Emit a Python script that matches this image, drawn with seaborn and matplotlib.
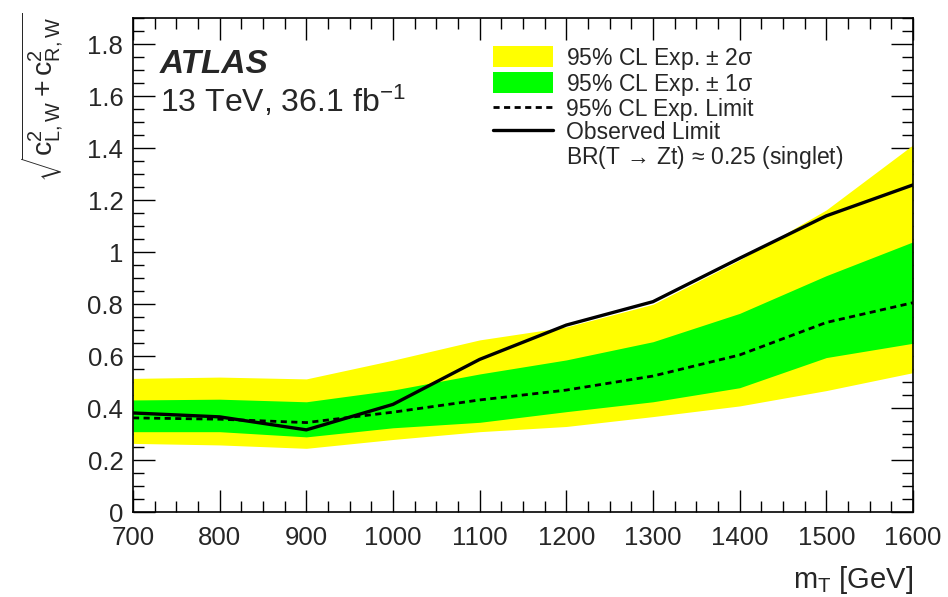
import matplotlib
matplotlib.use("Agg")
import matplotlib.pyplot as plt
from matplotlib.patches import Patch
from matplotlib.lines import Line2D
from matplotlib.ticker import MultipleLocator
import seaborn as sns
import pandas as pd

# Mass points and limits on sqrt(c_LW^2 + c_RW^2)
mass = [700, 800, 900, 1000, 1100, 1200, 1300, 1400, 1500, 1600]
observed = [0.382, 0.367, 0.317, 0.415, 0.588, 0.720, 0.810, 0.977, 1.140, 1.259]
expected = [0.363, 0.358, 0.345, 0.385, 0.432, 0.470, 0.524, 0.605, 0.730, 0.806]
minus_2sigma = [0.265, 0.259, 0.246, 0.280, 0.310, 0.330, 0.368, 0.409, 0.468, 0.537]
minus_1sigma = [0.310, 0.310, 0.290, 0.325, 0.346, 0.387, 0.425, 0.479, 0.595, 0.650]
plus_1sigma = [0.432, 0.435, 0.425, 0.470, 0.532, 0.586, 0.656, 0.765, 0.910, 1.040]
plus_2sigma = [0.515, 0.520, 0.513, 0.585, 0.663, 0.713, 0.800, 0.970, 1.163, 1.413]

df = pd.DataFrame({"mass": mass, "observed": observed, "expected": expected})

sns.set_style("ticks")
plt.rcParams["font.family"] = ["Liberation Sans", "DejaVu Sans"]
plt.rcParams["mathtext.fontset"] = "custom"
plt.rcParams["mathtext.rm"] = "Liberation Sans"
plt.rcParams["mathtext.it"] = "Liberation Sans"
plt.rcParams["mathtext.bf"] = "Liberation Sans:bold"

fig = plt.figure(figsize=(9.48, 5.97), dpi=100)
ax = fig.add_axes([0.1403, 0.1419, 0.8227, 0.8275])

ax.fill_between(mass, minus_2sigma, plus_2sigma, color="#ffff00", lw=0, zorder=1)
ax.fill_between(mass, minus_1sigma, plus_1sigma, color="#00ff00", lw=0, zorder=2)
sns.lineplot(data=df, x="mass", y="expected", ax=ax, color="black",
             lw=2.0, linestyle=(0, (2.2, 1.6)), zorder=3)
sns.lineplot(data=df, x="mass", y="observed", ax=ax, color="black",
             lw=2.4, zorder=4)

ax.set_xlim(700, 1600)
ax.set_ylim(0, 1.9)
ax.xaxis.set_major_locator(MultipleLocator(100))
ax.xaxis.set_minor_locator(MultipleLocator(25))
ax.yaxis.set_major_locator(MultipleLocator(0.2))
ax.yaxis.set_minor_locator(MultipleLocator(0.05))
ax.yaxis.set_major_formatter(plt.FuncFormatter(lambda v, p: f"{v:g}"))

ax.tick_params(which="both", direction="in", top=True, right=True,
               width=1.0, color="black")
ax.tick_params(which="major", length=16, labelsize=18.5)
ax.tick_params(axis="y", which="major", pad=7)
ax.tick_params(axis="x", which="major", pad=10)
ax.tick_params(which="minor", length=8)
for s in ax.spines.values():
    s.set_linewidth(1.2)
    s.set_color("black")

ax.set_xlabel(r"m$_{\mathregular{T}}$ [GeV]", fontsize=21, loc="right", labelpad=10)
ax.set_ylabel(r"$\sqrt{\mathregular{c}^{2}_{\mathregular{L,W}} + \mathregular{c}^{2}_{\mathregular{R,W}}}$",
              fontsize=20.5, loc="top")
ax.yaxis.set_label_coords(-0.087, 1.012)

ax.text(0.034, 0.89, "ATLAS", transform=ax.transAxes, fontsize=24,
        fontweight="bold", fontstyle="italic")
ax.text(0.034, 0.81, r"13 TeV, 36.1 fb$^{\mathregular{-1}}$", transform=ax.transAxes,
        fontsize=23)

handles = [
    Patch(facecolor="#ffff00", edgecolor="none"),
    Patch(facecolor="#00ff00", edgecolor="none"),
    Line2D([], [], color="black", lw=2.0, linestyle=(0, (2.2, 1.6))),
    Line2D([], [], color="black", lw=2.4),
    Line2D([], [], color="none"),
]
labels = [
    r"95% CL Exp. $\pm$ 2$\sigma$",
    r"95% CL Exp. $\pm$ 1$\sigma$",
    "95% CL Exp. Limit",
    "Observed Limit",
    r"BR(T$\,\rightarrow\,$Zt)$\,\approx\,$0.25 (singlet)",
]
leg = ax.legend(handles, labels, loc="upper left", bbox_to_anchor=(0.447, 0.968),
                frameon=False, fontsize=16.5, handlelength=2.6, handleheight=1.0,
                handletextpad=0.58, labelspacing=0.0, borderpad=0)

fig.savefig("out.png", dpi=100)
